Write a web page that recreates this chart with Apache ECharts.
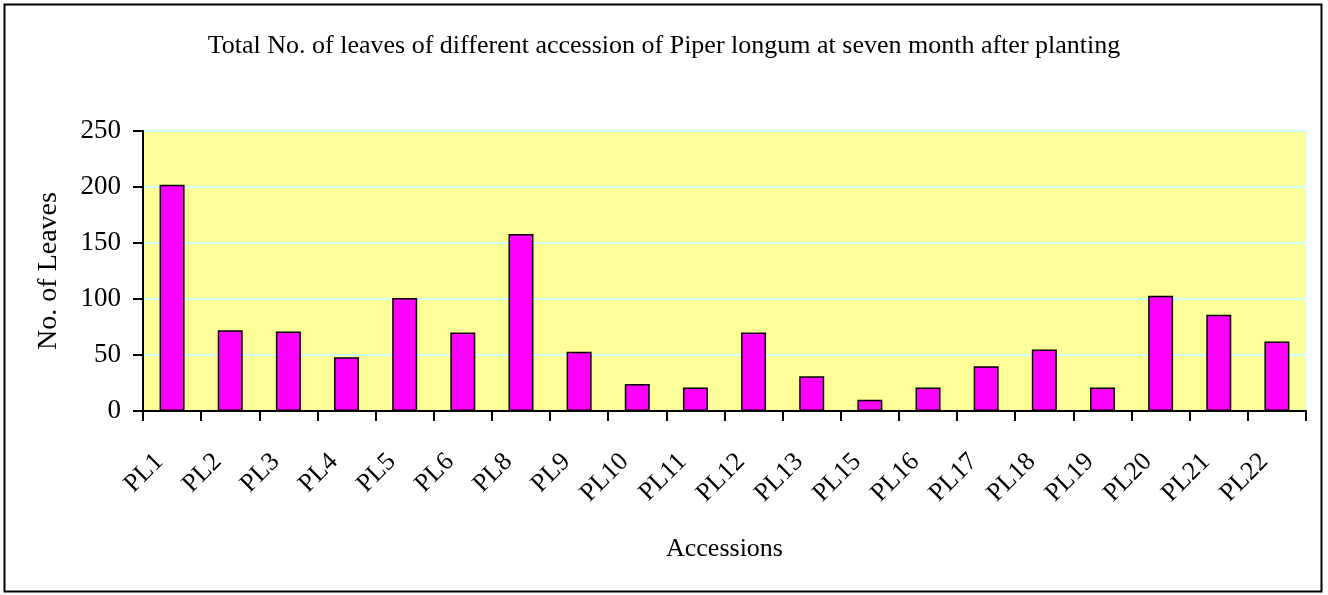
<!DOCTYPE html>
<html>
<head>
<meta charset="utf-8">
<script src="https://cdn.jsdelivr.net/npm/echarts@6/dist/echarts.min.js"></script>
<style>
  html, body { margin: 0; padding: 0; background: #fff; }
  #chart { width: 1328px; height: 595px; }
</style>
</head>
<body>
<div id="chart"></div>
<script>
const titleText = 'Total No. of leaves of different accession of Piper longum at seven month after planting'
const categories = ['PL1', 'PL2', 'PL3', 'PL4', 'PL5', 'PL6', 'PL8', 'PL9', 'PL10', 'PL11',
  'PL12', 'PL13', 'PL15', 'PL16', 'PL17', 'PL18', 'PL19', 'PL20', 'PL21', 'PL22']
const leaves = [202, 72, 71, 48, 101, 70, 158, 53, 24, 21, 70, 31, 10, 21, 40, 55, 21, 103, 86, 62]
const yTicks = [0, 50, 100, 150, 200, 250]

const font = 'Liberation Serif, Times New Roman, serif'
const chart = echarts.init(document.getElementById('chart'))

chart.setOption({
  animation: false,
  backgroundColor: '#fff',
  textStyle: { fontFamily: font },
  title: {
    text: titleText,
    left: 'center',
    top: 28,
    textStyle: { fontFamily: font, fontSize: 26, fontWeight: 'normal', color: '#000' }
  },
  // outer chart frame
  graphic: [{
    type: 'rect',
    shape: { x: 4.5, y: 4.5, width: 1317, height: 587 },
    style: { fill: 'none', stroke: '#000', lineWidth: 2 },
    silent: true
  }],
  grid: {
    left: 143,
    right: 22,
    top: 131,
    bottom: 184,
    show: true,
    backgroundColor: '#ffff99',
    borderColor: '#ccffff',
    borderWidth: 1
  },
  xAxis: {
    type: 'category',
    data: categories,
    name: 'Accessions',
    nameLocation: 'middle',
    nameGap: 125,
    nameTextStyle: { fontFamily: font, fontSize: 26, color: '#000' },
    axisLine: { lineStyle: { color: '#000', width: 2 } },
    axisTick: { show: true, length: 10, alignWithLabel: false, lineStyle: { color: '#000', width: 2 } },
    axisLabel: {
      interval: 0,
      rotate: 45,
      margin: 34,
      padding: [0, 18, 0, 0],
      fontFamily: font,
      fontSize: 26,
      color: '#000'
    }
  },
  yAxis: {
    type: 'value',
    min: 0,
    max: 250,
    interval: 50,
    name: 'No. of Leaves',
    nameLocation: 'middle',
    nameGap: 80,
    nameTextStyle: { fontFamily: font, fontSize: 28, color: '#000' },
    axisLine: { show: true, lineStyle: { color: '#000', width: 2 } },
    axisTick: { show: true, inside: false, length: 10, lineStyle: { color: '#000', width: 2 } },
    axisLabel: {
      margin: 22,
      fontFamily: font,
      fontSize: 27,
      color: '#000',
      formatter: v => yTicks.includes(v) ? String(v) : ''
    },
    splitLine: { show: true, lineStyle: { color: '#ccffff', width: 2 } }
  },
  series: [{
    type: 'bar',
    data: leaves,
    barWidth: 25,
    itemStyle: { color: '#ff00ff', borderColor: '#000', borderWidth: 1.5 }
  }]
})
</script>
</body>
</html>
